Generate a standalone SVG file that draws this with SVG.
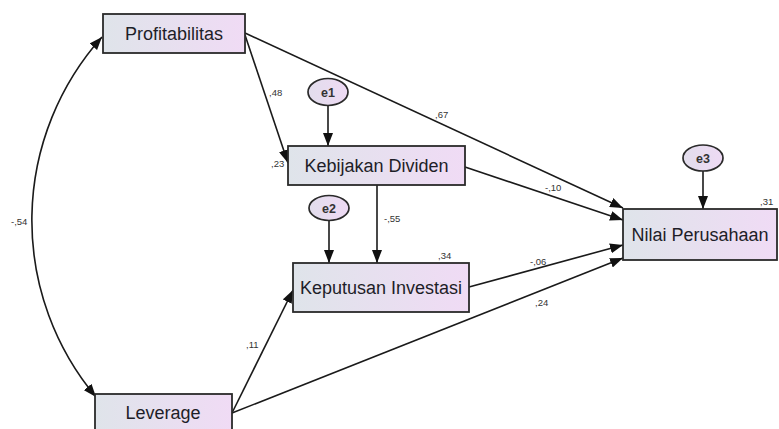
<svg xmlns="http://www.w3.org/2000/svg" width="779" height="429" viewBox="0 0 779 429">
<defs>
<linearGradient id="g" x1="0" y1="0" x2="1" y2="0">
<stop offset="0" stop-color="#dfe4ea"/>
<stop offset="1" stop-color="#f0dbf5"/>
</linearGradient>
<linearGradient id="ge" x1="0" y1="0" x2="1" y2="0">
<stop offset="0" stop-color="#e2ddec"/>
<stop offset="1" stop-color="#eedaf4"/>
</linearGradient>
<marker id="ah" markerUnits="userSpaceOnUse" markerWidth="14" markerHeight="10" refX="13" refY="5" orient="auto-start-reverse">
<path d="M0,0 L13,5 L0,10 Z" fill="#111"/>
</marker>
<style>
.box{fill:url(#g);stroke:#2a2a2a;stroke-width:1.8}
.ell{fill:url(#ge);stroke:#2a2a2a;stroke-width:1.7}
.lbl{font-family:"Liberation Sans",Arial,sans-serif;font-size:18px;fill:#1e1e28;text-anchor:middle}
.elb{font-family:"Liberation Sans",Arial,sans-serif;font-size:12.5px;font-weight:bold;fill:#333;text-anchor:middle}
.num{font-family:"Liberation Sans",Arial,sans-serif;font-size:9.5px;fill:#333}
.c{fill:none;stroke:#1a1a1a;stroke-width:1.6;marker-end:url(#ah)}
</style>
</defs>
<g id="connectors">
<path class="c" d="M102,37 A275,275 0 0,0 96,397" style="marker-start:url(#ah)"/>
<line class="c" x1="245" y1="35" x2="288" y2="163"/>
<line class="c" x1="245" y1="33" x2="623" y2="208"/>
<line class="c" x1="328" y1="106" x2="328" y2="146"/>
<line class="c" x1="329" y1="221" x2="329" y2="263"/>
<line class="c" x1="377" y1="185" x2="377" y2="263"/>
<line class="c" x1="703" y1="171" x2="703" y2="209"/>
<line class="c" x1="465" y1="167" x2="623" y2="220"/>
<line class="c" x1="469" y1="287" x2="623" y2="245"/>
<line class="c" x1="232" y1="413" x2="623" y2="258"/>
<line class="c" x1="232" y1="413" x2="293" y2="290"/>
</g>
<g id="labels">
<text class="num" x="269" y="96">,48</text>
<text class="num" x="271" y="167">,23</text>
<text class="num" x="435" y="118">,67</text>
<text class="num" x="384" y="222">-,55</text>
<text class="num" x="438" y="259">,34</text>
<text class="num" x="545" y="191">-,10</text>
<text class="num" x="530" y="265">-,06</text>
<text class="num" x="535" y="306">,24</text>
<text class="num" x="760" y="205">,31</text>
<text class="num" x="246" y="348">,11</text>
<text class="num" x="11" y="225">-,54</text>
</g>
<g id="profitabilitas">
<rect class="box" x="103" y="14" width="142" height="39"/>
<text class="lbl" x="174" y="40">Profitabilitas</text>
</g>
<g id="kebijakan">
<rect class="box" x="288" y="146" width="177" height="39"/>
<text class="lbl" x="376.5" y="172">Kebijakan Dividen</text>
</g>
<g id="keputusan">
<rect class="box" x="293" y="263" width="176" height="49"/>
<text class="lbl" x="381" y="294">Keputusan Investasi</text>
</g>
<g id="nilai">
<rect class="box" x="623" y="209" width="154" height="51"/>
<text class="lbl" x="700" y="241">Nilai Perusahaan</text>
</g>
<g id="leverage">
<rect class="box" x="95" y="394" width="137" height="42"/>
<text class="lbl" x="163" y="419">Leverage</text>
</g>
<g id="e1">
<ellipse class="ell" cx="328" cy="92" rx="20" ry="13.5"/>
<text class="elb" x="328" y="96.5">e1</text>
</g>
<g id="e2">
<ellipse class="ell" cx="329" cy="208" rx="20" ry="12.5"/>
<text class="elb" x="329" y="212.5">e2</text>
</g>
<g id="e3">
<ellipse class="ell" cx="703" cy="158" rx="20" ry="13"/>
<text class="elb" x="703" y="162.5">e3</text>
</g>
</svg>
